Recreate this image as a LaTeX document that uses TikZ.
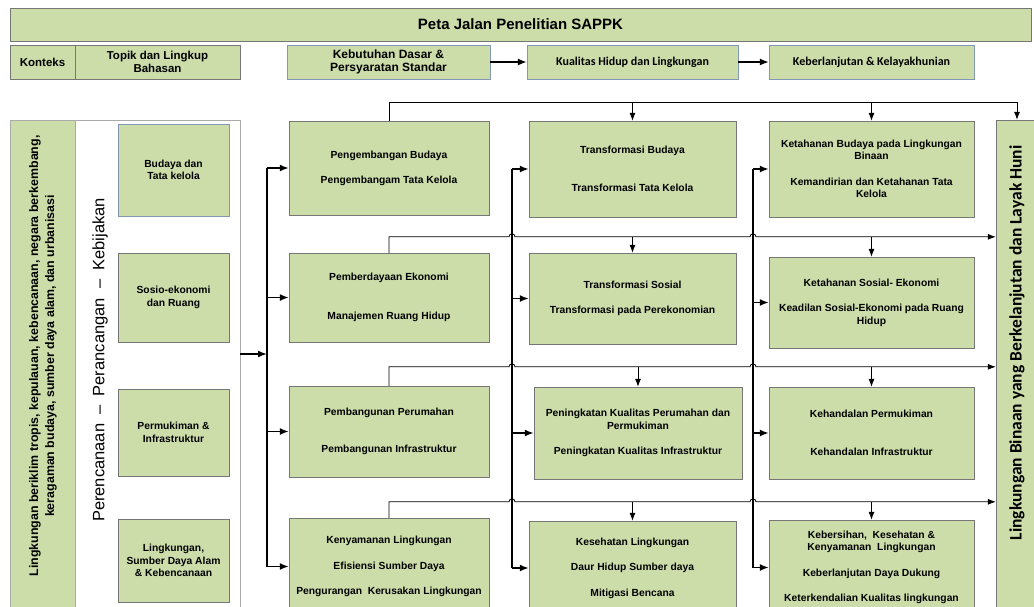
\documentclass[tikz,border=0pt]{standalone}
\usepackage{fontspec}
\setmainfont{Liberation Sans}
\newfontfamily\carlito{Carlito}
\usepackage{tikz}
\usetikzlibrary{arrows.meta,positioning,calc}
\usepackage{xcolor}
\definecolor{spgreen}{RGB}{205,221,170}
\definecolor{spgray}{RGB}{118,118,118}
\definecolor{spblue}{RGB}{128,152,182}
\definecolor{splight}{RGB}{170,170,170}
\tikzstyle{cell} = [draw=spgray, fill=spgreen, align=center, inner sep=0pt, font=\fontsize{10.3}{12.5}\selectfont\bfseries]
\tikzstyle{head} = [cell, font=\fontsize{11.5}{13}\selectfont\bfseries]
\tikzstyle{bus} = [line width=1.6pt, >={Latex[length=9pt,width=7pt]}]
\tikzstyle{feed} = [line width=0.8pt, >={Latex[length=8pt,width=6pt]}]
\tikzstyle{harrow} = [line width=1.4pt, ->, >={Latex[length=9pt,width=7pt]}]

\begin{document}
\begin{tikzpicture}[x=1pt, y=-1pt]
\useasboundingbox (0,0) rectangle (1034,606);
\clip (0,0) rectangle (1034,606);

% Title and header row
\node[cell, minimum width=1021pt, minimum height=33pt, font=\fontsize{15}{17}\selectfont\bfseries] (title) at (520.5,24.5) {Peta Jalan Penelitian SAPPK};
\node[head, minimum width=65pt, minimum height=34pt] (konteks) at (42.5,62) {Konteks};
\node[head, minimum width=165pt, minimum height=34pt] (topik) at (157.5,62) {Topik dan Lingkup\\Bahasan};
\node[head, draw=spblue, minimum width=203pt, minimum height=34pt, font=\fontsize{12}{13.5}\selectfont\bfseries] (dasar) at (388.5,62) {Kebutuhan Dasar \&\\Persyaratan Standar};
\node[head, draw=spblue, minimum width=211pt, minimum height=34pt, font=\carlito\fontsize{12}{14}\selectfont\bfseries] (kualitas) at (632.5,62) {Kualitas Hidup dan Lingkungan};
\node[head, draw=spblue, minimum width=205pt, minimum height=34pt, font=\carlito\fontsize{12}{14}\selectfont\bfseries] (layak) at (871.5,62) {Keberlanjutan \& Kelayakhunian};
\draw[harrow] (dasar) -- (kualitas);
\draw[harrow] (kualitas) -- (layak);

% Context frame
\node[draw=splight, fill=white, minimum width=230pt, minimum height=495pt] (frame) at (125,367.5) {};
\node[draw=splight, fill=spgreen, minimum width=65pt, minimum height=495pt] (strip) at (42.5,367.5) {};
\node[rotate=90, align=center, font=\fontsize{12.4}{16}\selectfont\bfseries] (stripname) at (43,356) {Lingkungan beriklim tropis, kepulauan, kebencanaan, negara berkembang,\\keragaman budaya, sumber daya alam, dan urbanisasi};
\node[rotate=90, font=\fontsize{16.5}{18}\selectfont] (plan) at (100,360) {Perencanaan\ \ –\ \ Perancangan\ \ –\ \ Kebijakan};

% Topics
\node[cell, draw=spblue, minimum width=111pt, minimum height=92pt] (budaya) at (173.5,170) {Budaya dan\\Tata kelola};
\node[cell, minimum width=111pt, minimum height=89pt] (sosio) at (173.5,297.5) {Sosio-ekonomi\\dan Ruang};
\node[cell, minimum width=111pt, minimum height=87pt] (mukim) at (173.5,432.5) {Permukiman \&\\Infrastruktur};
\node[cell, minimum width=111pt, minimum height=83pt] (alam) at (173.5,560.5) {Lingkungan,\\Sumber Daya Alam\\\& Kebencanaan};

% Column 1
\node[cell, minimum width=200pt, minimum height=94pt] (c1a) at (389,168) {Pengembangan Budaya\\[12.5pt]Pengembangam Tata Kelola};
\node[cell, minimum width=200pt, minimum height=89pt] (c1b) at (389,297.5) {Pemberdayaan Ekonomi\\[26pt]Manajemen Ruang Hidup};
\node[cell, minimum width=200pt, minimum height=91pt] (c1c) at (389,431.5) {Pembangunan Perumahan\\[25pt]Pembangunan Infrastruktur};
\node[cell, minimum width=200pt, minimum height=97pt] (c1d) at (389,566.5) {Kenyamanan Lingkungan\\[13pt]Efisiensi Sumber Daya\\[13pt]Pengurangan\ \ Kerusakan Lingkungan};

% Column 2
\node[cell, minimum width=207pt, minimum height=96pt] (c2a) at (632.5,169) {Transformasi Budaya\\[26pt]Transformasi Tata Kelola};
\node[cell, minimum width=207pt, minimum height=91pt] (c2b) at (632.5,298.5) {Transformasi Sosial\\[13pt]Transformasi pada Perekonomian};
\node[cell, minimum width=208pt, minimum height=92pt] (c2c) at (638,433) {Peningkatan Kualitas Perumahan dan\\Permukiman\\[13pt]Peningkatan Kualitas Infrastruktur};
\node[cell, minimum width=207pt, minimum height=94pt] (c2d) at (632.5,568) {Kesehatan Lingkungan\\[13pt]Daur Hidup Sumber daya\\[13pt]Mitigasi Bencana};

% Column 3
\node[cell, minimum width=205pt, minimum height=96pt] (c3a) at (871.5,169) {Ketahanan Budaya pada Lingkungan\\Binaan\\[13pt]Kemandirian dan Ketahanan Tata\\Kelola};
\node[cell, minimum width=205pt, minimum height=91pt] (c3b) at (871.5,302.5) {Ketahanan Sosial- Ekonomi\\[13pt]Keadilan Sosial-Ekonomi pada Ruang\\Hidup};
\node[cell, minimum width=205pt, minimum height=92pt] (c3c) at (871.5,433) {Kehandalan Permukiman\\[26pt]Kehandalan Infrastruktur};
\node[cell, minimum width=205pt, minimum height=95pt] (c3d) at (871.5,567.5) {Kebersihan,\ \ Kesehatan \&\\Kenyamanan\ \ Lingkungan\\[13pt]Keberlanjutan Daya Dukung\\[13pt]Keterkendalian Kualitas lingkungan};

% Goal
\node[cell, minimum width=42pt, minimum height=495pt] (huni) at (1017,367.5) {};
\node[rotate=90, font=\carlito\fontsize{17.5}{19}\selectfont\bfseries] (huniname) at (1017,343) {Lingkungan Binaan yang Berkelanjutan dan Layak Huni};

% Buses
\coordinate (bus1) at (267,0);
\coordinate (bus2) at (512,0);
\coordinate (bus3) at (753,0);
\coordinate (in) at ([yshift=13.5pt]frame.east);
\draw[bus,->] (in) -- (bus1 |- in);
\draw[bus] (bus1 |- c1a.west) -- (bus1 |- c1d.west);
\draw[bus,->] (bus1 |- c1a.west) -- (c1a.west);
\draw[bus,->] (bus1 |- c1b.west) -- (c1b.west);
\draw[bus,->] (bus1 |- c1c.west) -- (c1c.west);
\draw[bus,->] (bus1 |- c1d.west) -- (c1d.west);
\draw[bus] (bus2 |- c2a.west) -- (bus2 |- c2d.west);
\draw[bus,->] (bus2 |- c2a.west) -- (c2a.west);
\draw[bus,->] (bus2 |- c2b.west) -- (c2b.west);
\draw[bus,->] (bus2 |- c2c.west) -- (c2c.west);
\draw[bus,->] (bus2 |- c2d.west) -- (c2d.west);
\draw[bus] (bus3 |- c3a.west) -- (bus3 |- c3d.west);
\draw[bus,->] (bus3 |- c3a.west) -- (c3a.west);
\draw[bus,->] (bus3 |- c3b.west) -- (c3b.west);
\draw[bus,->] (bus3 |- c3c.west) -- (c3c.west);
\draw[bus,->] (bus3 |- c3d.west) -- (c3d.west);

% Feedback lines
\draw[feed,->] (c1a.north) -- ++(0,-18) coordinate (f1) -| (huni.north);
\draw[feed,->] (c2a.north |- f1) -- (c2a.north);
\draw[feed,->] (c3a.north |- f1) -- (c3a.north);

\draw[feed,->] (c1b.north) -- ++(0,-16) coordinate (f2) -- ($(bus2 |- f2)+(-3,0)$) arc[start angle=180, end angle=0, radius=3pt] -- ($(bus3 |- f2)+(-3,0)$) arc[start angle=180, end angle=0, radius=3pt] -- (huni.west |- f2);
\draw[feed,->] (c2b.north |- f2) -- (c2b.north);
\draw[feed,->] (c3b.north |- f2) -- (c3b.north);

\draw[feed,->] (c1c.north) -- ++(0,-19) coordinate (f3) -- ($(bus2 |- f3)+(-3,0)$) arc[start angle=180, end angle=0, radius=3pt] -- ($(bus3 |- f3)+(-3,0)$) arc[start angle=180, end angle=0, radius=3pt] -- (huni.west |- f3);
\draw[feed,->] (c2c.north |- f3) -- (c2c.north);
\draw[feed,->] (c3c.north |- f3) -- (c3c.north);

\draw[feed,->] (c1d.north) -- ++(0,-16) coordinate (f4) -- ($(bus2 |- f4)+(-3,0)$) arc[start angle=180, end angle=0, radius=3pt] -- ($(bus3 |- f4)+(-3,0)$) arc[start angle=180, end angle=0, radius=3pt] -- (huni.west |- f4);
\draw[feed,->] (c2d.north |- f4) -- (c2d.north);
\draw[feed,->] (c3d.north |- f4) -- (c3d.north);
\end{tikzpicture}
\end{document}
